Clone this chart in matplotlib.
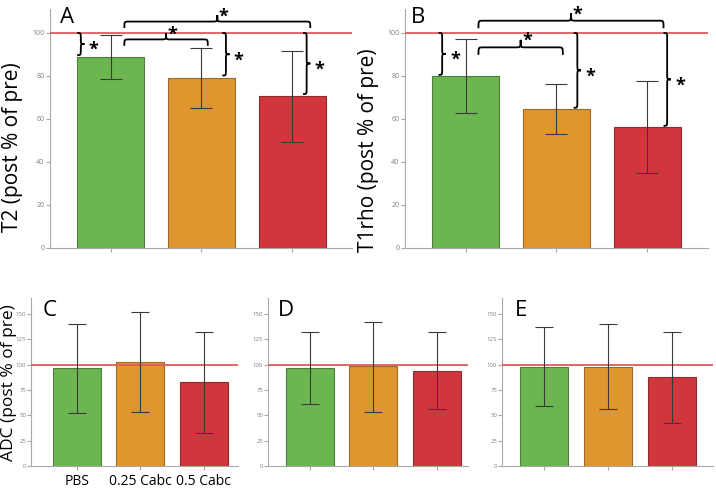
import matplotlib.pyplot as plt
import numpy as np
from matplotlib.path import Path
from matplotlib.patches import PathPatch

plt.rcParams["font.family"] = ["Open Sans", "DejaVu Sans"]

groups = ["PBS", "0.25 Cabc", "0.5 Cabc"]
colors = ["#6cb652", "#e0962f", "#d0363c"]
edges = ["#4f7f3e", "#9b6a25", "#8f2a2e"]

# panel A - T2
t2_mean = [88.7, 79.2, 70.6]
t2_lo = [78.5, 65.0, 49.5]
t2_hi = [99.1, 93.2, 91.6]

# panel B - T1rho
t1rho_mean = [80.0, 64.7, 56.3]
t1rho_lo = [63.0, 52.9, 35.0]
t1rho_hi = [97.1, 76.3, 77.7]

# panel C - ADC
adc_mean = [97.0, 102.7, 82.9]
adc_lo = [52.8, 53.5, 33.0]
adc_hi = [140.6, 151.8, 132.7]

# panel D
d_mean = [96.7, 98.4, 94.0]
d_lo = [61.5, 53.8, 56.2]
d_hi = [132.0, 142.6, 132.0]

# panel E
e_mean = [98.0, 97.4, 87.7]
e_lo = [59.2, 56.2, 42.5]
e_hi = [137.5, 139.9, 132.5]

ref_level = 100

# significance braces (annotation positions)
a_vbrace_x = [-0.37, 1.23, 2.12]
b_vbrace_x = [-0.30, 1.19, 2.18]
a_hbraces = [(0.15, 1.07, 94.0), (0.15, 2.20, 102.3)]
b_hbraces = [(0.14, 1.07, 89.8), (0.14, 2.18, 102.2)]

GRAY = "#a8a8a8"
STAR = 13


def hbrace(ax, x0, x1, y, d, r):
    xm = (x0 + x1) / 2
    verts = [(x0, y), (x0, y + d), (x0, y + d), (x0 + r, y + d),
             (xm - r, y + d),
             (xm, y + d), (xm, y + d), (xm, y + 2 * d),
             (xm, y + d), (xm, y + d), (xm + r, y + d),
             (x1 - r, y + d),
             (x1, y + d), (x1, y + d), (x1, y)]
    codes = [Path.MOVETO] + [Path.CURVE4] * 3 + [Path.LINETO] + [Path.CURVE4] * 6 \
        + [Path.LINETO] + [Path.CURVE4] * 3
    ax.add_patch(PathPatch(Path(verts, codes), fc="none", ec="black", lw=1.3,
                           clip_on=False, zorder=5))
    ax.annotate("*", (xm, y + 2 * d), xytext=(1, -0.35 * STAR), textcoords="offset points",
                ha="left", va="baseline", fontsize=STAR, fontweight="bold",
                annotation_clip=False)


def vbrace(ax, x, y0, y1, w, r):
    ym = (y0 + y1) / 2
    verts = [(x, y0), (x + w, y0), (x + w, y0), (x + w, y0 - r),
             (x + w, ym + r),
             (x + w, ym), (x + w, ym), (x + 2 * w, ym),
             (x + w, ym), (x + w, ym), (x + w, ym - r),
             (x + w, y1 + r),
             (x + w, y1), (x + w, y1), (x, y1)]
    codes = [Path.MOVETO] + [Path.CURVE4] * 3 + [Path.LINETO] + [Path.CURVE4] * 6 \
        + [Path.LINETO] + [Path.CURVE4] * 3
    ax.add_patch(PathPatch(Path(verts, codes), fc="none", ec="black", lw=1.3,
                           clip_on=False, zorder=5))
    ax.annotate("*", (x + 2 * w, ym), xytext=(3, -0.62 * STAR), textcoords="offset points",
                ha="left", va="baseline", fontsize=STAR, fontweight="bold",
                annotation_clip=False)


def bar_panel(ax, mean, lo, hi, width, capsize, xlim, ylim, yticks, labelsize=5, pad=1):
    x = np.arange(len(mean))
    m = np.array(mean)
    yerr = [m - np.array(lo), np.array(hi) - m]
    ax.bar(x, m, width=width, color=colors, edgecolor=edges, linewidth=0.8, zorder=2)
    ax.errorbar(x, m, yerr=yerr, fmt="none", ecolor="#3a3a3a", elinewidth=0.8,
                capsize=capsize, capthick=0.8, zorder=4)
    ax.axhline(ref_level, color="#e05a5a", lw=1.3, zorder=3)
    ax.set_xlim(*xlim)
    ax.set_ylim(*ylim)
    ax.set_xticks(x)
    ax.set_xticklabels([])
    ax.set_yticks(yticks)
    for s in ["top", "right"]:
        ax.spines[s].set_visible(False)
    for s in ["left", "bottom"]:
        ax.spines[s].set_color(GRAY)
        ax.spines[s].set_linewidth(0.8)
    ax.tick_params(colors=GRAY, labelcolor="#808080", labelsize=labelsize,
                   length=3, width=0.8, pad=pad)


fig = plt.figure(figsize=(7.16, 4.9), dpi=100)

axA = fig.add_axes([0.0698, 0.494, 0.4218, 0.487])
bar_panel(axA, t2_mean, t2_lo, t2_hi, 0.74, 8, (-0.67, 2.66), (0, 111), range(0, 101, 20))
axA.set_ylabel("T2 (post % of pre)", fontsize=15)
axA.yaxis.set_label_coords(-0.089, 0.421)
axA.text(0.033, 0.943, "A", transform=axA.transAxes, fontsize=16, va="baseline")

axB = fig.add_axes([0.5656, 0.494, 0.4232, 0.487])
bar_panel(axB, t1rho_mean, t1rho_lo, t1rho_hi, 0.74, 8, (-0.67, 2.67), (0, 111), range(0, 101, 20))
axB.set_ylabel("T1rho (post % of pre)", fontsize=15)
axB.yaxis.set_label_coords(-0.086, 0.41)
axB.text(0.02, 0.943, "B", transform=axB.transAxes, fontsize=16, va="baseline")

for i, bx in enumerate(a_vbrace_x):
    vbrace(axA, bx, ref_level, t2_mean[i] + 1, 0.04, 2.5)
for x0, x1, y in a_hbraces:
    hbrace(axA, x0, x1, y, 3.0, 0.05)

for i, bx in enumerate(b_vbrace_x):
    vbrace(axB, bx, ref_level, t1rho_mean[i] + 0.5, 0.04, 2.5)
for x0, x1, y in b_hbraces:
    hbrace(axB, x0, x1, y, 3.5, 0.05)

bottom_ylim = (0, 166)
bottom_ticks = range(0, 151, 25)

axC = fig.add_axes([31 / 716, 0.049, 207 / 716, 0.343])
bar_panel(axC, adc_mean, adc_lo, adc_hi, 0.756, 6.5, (-0.72, 2.54), bottom_ylim,
          bottom_ticks, labelsize=4.3, pad=0.5)
axC.set_xticklabels(groups, fontsize=10, color="black")
axC.tick_params(axis="x", pad=3)
axC.set_ylabel("ADC (post % of pre)", fontsize=12.5)
axC.yaxis.set_label_coords(-0.067, 0.494)
axC.text(0.058, 0.893, "C", transform=axC.transAxes, fontsize=16, va="baseline")

axD = fig.add_axes([268 / 716, 0.049, 200 / 716, 0.343])
bar_panel(axD, d_mean, d_lo, d_hi, 0.756, 6.5, (-0.66, 2.49), bottom_ylim,
          bottom_ticks, labelsize=4.3, pad=0.5)
axD.text(0.05, 0.893, "D", transform=axD.transAxes, fontsize=16, va="baseline")

axE = fig.add_axes([502 / 716, 0.049, 211 / 716, 0.343])
bar_panel(axE, e_mean, e_lo, e_hi, 0.756, 6.5, (-0.66, 2.64), bottom_ylim,
          bottom_ticks, labelsize=4.3, pad=0.5)
axE.text(0.062, 0.893, "E", transform=axE.transAxes, fontsize=16, va="baseline")

fig.savefig("out.png", dpi=100)
